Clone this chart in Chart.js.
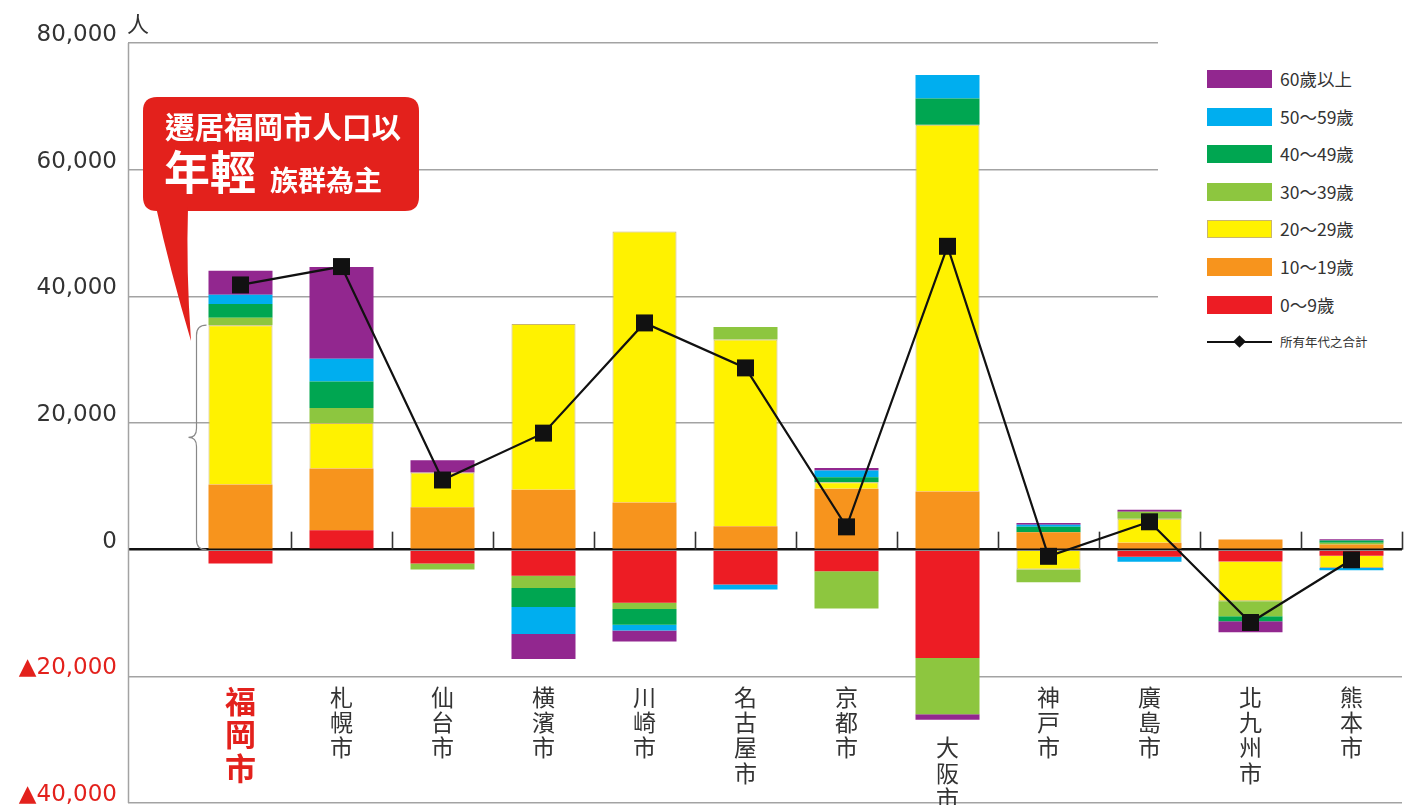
<!DOCTYPE html>
<html><head><meta charset="utf-8">
<script src="https://cdn.jsdelivr.net/npm/chart.js@4.4.1/dist/chart.umd.min.js"></script>
<style>
html,body{margin:0;padding:0;background:#fff;}
#wrap{position:relative;width:1411px;height:805px;overflow:hidden;background:#fff;}
#c{position:absolute;left:0;top:0;width:1411px;height:805px;}
#legend{position:absolute;left:1158px;top:40px;width:253px;height:322px;background:#fff;}
.li{position:absolute;left:49px;width:200px;height:18px;}
.sw{position:absolute;left:0;top:0;width:65px;height:18px;box-sizing:border-box;}
.lt{position:absolute;left:73px;top:-3px;font-family:"Noto Sans CJK TC";font-size:17.5px;color:#333;white-space:nowrap;line-height:24px;}
.ln{position:absolute;left:0;top:8px;width:65px;height:2px;background:#111;}
.dm{position:absolute;left:28px;top:4px;width:9px;height:9px;background:#111;transform:rotate(45deg);}
</style></head><body>
<div id="wrap"><canvas id="c" width="1411" height="805"></canvas><div id="legend"></div></div>
<script>
// ---- data (persons, net migration into each city) ----
const cities = ['福岡市','札幌市','仙台市','横濱市','川崎市','名古屋市','京都市','大阪市','神戸市','廣島市','北九州市','熊本市'];
const ageLabels = ['0～9歲','10～19歲','20～29歲','30～39歲','40～49歲','50～59歲','60歲以上'];
const age0_9   = [-2200,  3050, -2200, -4100, -8400, -5500, -3400, -17100,     0, -1100, -1850,  -950];
const age10_19 = [10300,  9750,  6700,  9450,  7450,  3700,  9600,   9200,  2750,  1100,  1600,   800];
const age20_29 = [25150,  7200,  5500, 26200, 42800, 29500,  1050,  57900, -3150,  3800, -6300, -1950];
const age30_39 = [ 1150,  2350,  -950, -1950,  -950,  1950, -5900,  -8900, -2000,  1100, -2350,   300];
const age40_49 = [ 2200,  4200,     0, -3000, -2500,     0,   800,   4150,   850,     0,  -800,   350];
const age50_59 = [ 1450,  3600,     0, -4250,  -900,  -800,  1050,   3700,   350,  -800,     0,  -350];
const age60p   = [ 3800, 14500,  1900, -3950, -1750,     0,   400,   -850,   250,   300, -1750,   200];
const totalLabel = '所有年代之合計';
const totals   = [41800, 44700, 11000, 18400, 35800, 28700,  3600,  47900, -1050,  4400, -11500, -1600];
const yTicks = [-40000, -20000, 0, 20000, 40000, 60000, 80000];

// ---- styles ----
const ageSeries = [age0_9, age10_19, age20_29, age30_39, age40_49, age50_59, age60p];
const ageColors = ['#ED1C24','#F7941D','#FFF200','#8DC63F','#00A651','#00AEEF','#92278F'];
const RED = '#E3211C';
const CJK = '"Noto Sans CJK TC"';

// ---- legend (HTML) ----
const lg = document.getElementById('legend');
const order = ageLabels.map((_, k) => k).reverse();
order.forEach((k, row) => {
  const d = document.createElement('div');
  d.className = 'li'; d.style.top = (30 + row * 37.6) + 'px';
  const sw = document.createElement('div'); sw.className = 'sw'; sw.style.background = ageColors[k];
  if (k === 2) sw.style.border = '1px solid #c9b56e';
  const t = document.createElement('div'); t.className = 'lt'; t.textContent = ageLabels[k];
  d.appendChild(sw); d.appendChild(t); lg.appendChild(d);
});
{
  const d = document.createElement('div'); d.className = 'li'; d.style.top = (30 + 7 * 37.6) + 'px';
  const ln = document.createElement('div'); ln.className = 'ln';
  const dm = document.createElement('div'); dm.className = 'dm';
  const t = document.createElement('div'); t.className = 'lt'; t.style.fontSize = '12.5px'; t.textContent = totalLabel;
  d.appendChild(ln); d.appendChild(dm); d.appendChild(t); lg.appendChild(d);
}

// ---- decorations ----
const deco = {
  id: 'deco',
  beforeDatasetsDraw(chart) {
    const {ctx, scales: {x, y}} = chart;
    ctx.save();
    const axX = y.right - y.options.grid.tickLength + 0.5;
    ctx.strokeStyle = '#a3a3a3'; ctx.lineWidth = 1.5;
    ctx.beginPath(); ctx.moveTo(axX, y.getPixelForValue(y.max)); ctx.lineTo(axX, y.getPixelForValue(y.min)); ctx.stroke();
    const y0 = y.getPixelForValue(0);
    const step = x.getPixelForValue(1) - x.getPixelForValue(0);
    ctx.strokeStyle = '#333'; ctx.lineWidth = 1.6;
    for (let i = 0; i < cities.length; i++) {
      const px = Math.round(x.getPixelForValue(i) + step / 2) + 0.5;
      ctx.beginPath(); ctx.moveTo(px, y0); ctx.lineTo(px, y0 - 18); ctx.stroke();
    }
    ctx.restore();
  },
  afterDatasetsDraw(chart) {
    const {ctx, scales: {x, y}} = chart;
    ctx.save();
    // brace beside Fukuoka bar (10-29 years)
    const barLeft = x.getPixelForValue(0) - 32;
    const top = y.getPixelForValue(age10_19[0] + age20_29[0]);
    const bot = y.getPixelForValue(0);
    const mid = (top + bot) / 2;
    const xr = barLeft - 2, xm = xr - 10, xt = xr - 18;
    ctx.strokeStyle = '#888'; ctx.lineWidth = 1.2;
    ctx.beginPath();
    ctx.moveTo(xr, top);
    ctx.quadraticCurveTo(xm, top, xm, top + 10);
    ctx.lineTo(xm, mid - 9);
    ctx.quadraticCurveTo(xm, mid, xt, mid);
    ctx.quadraticCurveTo(xm, mid, xm, mid + 9);
    ctx.lineTo(xm, bot - 10);
    ctx.quadraticCurveTo(xm, bot, xr, bot);
    ctx.stroke();

    // speech bubble
    ctx.fillStyle = RED;
    const bx = 143, by = 97, bw = 276, bh = 114, r = 14;
    ctx.beginPath();
    ctx.moveTo(bx + r, by);
    ctx.lineTo(bx + bw - r, by); ctx.quadraticCurveTo(bx + bw, by, bx + bw, by + r);
    ctx.lineTo(bx + bw, by + bh - r); ctx.quadraticCurveTo(bx + bw, by + bh, bx + bw - r, by + bh);
    ctx.lineTo(bx + r, by + bh); ctx.quadraticCurveTo(bx, by + bh, bx, by + bh - r);
    ctx.lineTo(bx, by + r); ctx.quadraticCurveTo(bx, by, bx + r, by);
    ctx.closePath(); ctx.fill();
    ctx.beginPath();
    ctx.moveTo(156, by + bh - 4);
    ctx.quadraticCurveTo(170, 270, 191, 341);
    ctx.quadraticCurveTo(186, 270, 188, by + bh - 4);
    ctx.closePath(); ctx.fill();

    ctx.fillStyle = '#fff'; ctx.textAlign = 'left'; ctx.textBaseline = 'middle';
    ctx.font = 'bold 29.5px ' + CJK; ctx.fillText('遷居福岡市人口以', 165, 127);
    ctx.font = 'bold 46px ' + CJK; ctx.fillText('年輕', 164, 172);
    ctx.font = 'bold 28px ' + CJK; ctx.fillText('族群為主', 270, 180);

    // unit
    ctx.fillStyle = '#333'; ctx.font = '22px ' + CJK;
    ctx.fillText('人', 127, 24);
    ctx.restore();
  }
};

const datasets = ageSeries.map((arr, k) => ({
  type: 'bar', label: ageLabels[k], data: arr,
  backgroundColor: ageColors[k],
  borderColor: '#c9b56e', borderWidth: k === 2 ? 1 : 0,
  barPercentage: 64 / 101, categoryPercentage: 1, order: 1
}));
datasets.push({
  type: 'line', label: totalLabel, data: totals,
  borderColor: '#111', backgroundColor: '#111', borderWidth: 2.2,
  pointStyle: 'rect', pointRadius: 12, pointHoverRadius: 12,
  pointBackgroundColor: '#111', pointBorderWidth: 0, tension: 0, fill: false, order: 0
});

new Chart(document.getElementById('c'), {
  type: 'bar',
  data: { labels: cities, datasets },
  plugins: [deco],
  options: {
    responsive: false, animation: false, events: [],
    layout: { autoPadding: false, padding: { left: 0, top: 43, right: 9, bottom: 2 } },
    plugins: { legend: { display: false }, tooltip: { enabled: false } },
    scales: {
      x: {
        type: 'category', axis: 'x', stacked: true, offset: true,
        position: { y: -20000 },
        grid: { display: false, drawTicks: false }, border: { display: false },
        ticks: {
          autoSkip: false, maxRotation: 0, minRotation: 0, padding: 8,
          callback: (v, i) => {
            const chars = Array.from(cities[i]);
            return cities[i] === '大阪市' ? ['', ''].concat(chars) : chars;
          },
          color: (c) => c.index === 0 ? RED : '#333',
          font: (c) => c.index === 0
            ? { family: CJK, size: 31, weight: 'bold', lineHeight: 1.08 }
            : { family: CJK, size: 23, lineHeight: 1.1 }
        },
        afterFit: (s) => { s.paddingLeft = 0; s.paddingRight = 0; }
      },
      y: {
        stacked: true, min: yTicks[0], max: yTicks[yTicks.length - 1],
        afterBuildTicks: (s) => { s.ticks = yTicks.map(v => ({ value: v })); },
        ticks: {
          padding: 11, labelOffset: -8,
          callback: (v) => v < 0 ? '▲' + Math.abs(v).toLocaleString('en-US') : Number(v).toLocaleString('en-US'),
          color: (c) => c.tick && c.tick.value < 0 ? RED : '#333',
          font: { family: '"DejaVu Sans"', size: 23 }
        },
        grid: {
          color: (c) => c.tick && c.tick.value === 0 ? '#111' : '#a3a3a3',
          lineWidth: (c) => c.tick && c.tick.value === 0 ? 2.5 : 1.5,
          drawTicks: true, tickLength: 62
        },
        border: { display: false },
        afterFit: (s) => { s.width = 190; s.paddingTop = 0; s.paddingBottom = 0; }
      }
    }
  }
});
</script>
</body></html>
